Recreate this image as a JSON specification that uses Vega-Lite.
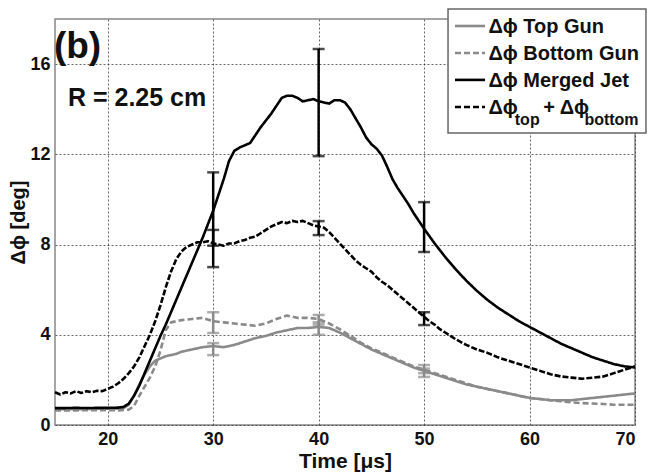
{
  "$schema": "https://vega.github.io/schema/vega-lite/v6.json",
  "width": 580,
  "height": 406,
  "autosize": {"type": "none"},
  "padding": {"left": 55, "top": 19, "right": 12, "bottom": 47},
  "background": "white",
  "config": {
    "view": {"stroke": "#888888", "strokeWidth": 1.5},
    "axis": {
      "labelFont": "Liberation Sans", "labelFontWeight": "bold", "labelFontSize": 18, "labelColor": "#111111",
      "titleFont": "Liberation Sans", "titleFontWeight": "bold", "titleColor": "#111111",
      "domain": false, "ticks": false,
      "grid": true, "gridColor": "#333333", "gridDash": [2, 2], "gridWidth": 1, "gridOpacity": 0.75
    },
    "text": {"font": "Liberation Sans", "fontWeight": "bold", "color": "#111111"}
  },
  "datasets": {
    "lines": [
      {"series":"Top Gun","time":15,"dphi":0.7},{"series":"Top Gun","time":17,"dphi":0.7},{"series":"Top Gun","time":19,"dphi":0.72},{"series":"Top Gun","time":21,"dphi":0.72},{"series":"Top Gun","time":21.5,"dphi":0.75},{"series":"Top Gun","time":22,"dphi":0.9},{"series":"Top Gun","time":22.5,"dphi":1.3},{"series":"Top Gun","time":23,"dphi":1.8},{"series":"Top Gun","time":23.5,"dphi":2.25},{"series":"Top Gun","time":24,"dphi":2.6},{"series":"Top Gun","time":24.5,"dphi":2.85},{"series":"Top Gun","time":25,"dphi":2.95},{"series":"Top Gun","time":25.5,"dphi":3.05},{"series":"Top Gun","time":26,"dphi":3.1},{"series":"Top Gun","time":26.5,"dphi":3.15},{"series":"Top Gun","time":27,"dphi":3.25},{"series":"Top Gun","time":28,"dphi":3.35},{"series":"Top Gun","time":29,"dphi":3.45},{"series":"Top Gun","time":30,"dphi":3.5},{"series":"Top Gun","time":31,"dphi":3.45},{"series":"Top Gun","time":32,"dphi":3.55},{"series":"Top Gun","time":33,"dphi":3.7},{"series":"Top Gun","time":34,"dphi":3.85},{"series":"Top Gun","time":35,"dphi":3.95},{"series":"Top Gun","time":36,"dphi":4.1},{"series":"Top Gun","time":37,"dphi":4.2},{"series":"Top Gun","time":38,"dphi":4.3},{"series":"Top Gun","time":39,"dphi":4.3},{"series":"Top Gun","time":40,"dphi":4.35},{"series":"Top Gun","time":41,"dphi":4.3},{"series":"Top Gun","time":42,"dphi":4.1},{"series":"Top Gun","time":43,"dphi":3.85},{"series":"Top Gun","time":44,"dphi":3.6},{"series":"Top Gun","time":45,"dphi":3.35},{"series":"Top Gun","time":46,"dphi":3.15},{"series":"Top Gun","time":47,"dphi":2.95},{"series":"Top Gun","time":48,"dphi":2.75},{"series":"Top Gun","time":49,"dphi":2.55},{"series":"Top Gun","time":50,"dphi":2.4},{"series":"Top Gun","time":51,"dphi":2.25},{"series":"Top Gun","time":52,"dphi":2.1},{"series":"Top Gun","time":53,"dphi":1.95},{"series":"Top Gun","time":54,"dphi":1.8},{"series":"Top Gun","time":55,"dphi":1.7},{"series":"Top Gun","time":56,"dphi":1.6},{"series":"Top Gun","time":57,"dphi":1.5},{"series":"Top Gun","time":58,"dphi":1.4},{"series":"Top Gun","time":59,"dphi":1.3},{"series":"Top Gun","time":60,"dphi":1.2},{"series":"Top Gun","time":61,"dphi":1.15},{"series":"Top Gun","time":62,"dphi":1.1},{"series":"Top Gun","time":63,"dphi":1.1},{"series":"Top Gun","time":64,"dphi":1.1},{"series":"Top Gun","time":65,"dphi":1.15},{"series":"Top Gun","time":66,"dphi":1.2},{"series":"Top Gun","time":67,"dphi":1.25},{"series":"Top Gun","time":68,"dphi":1.3},{"series":"Top Gun","time":69,"dphi":1.35},{"series":"Top Gun","time":70,"dphi":1.4},

      {"series":"Bottom Gun","time":15,"dphi":0.65},{"series":"Bottom Gun","time":17,"dphi":0.65},{"series":"Bottom Gun","time":19,"dphi":0.66},{"series":"Bottom Gun","time":21,"dphi":0.65},{"series":"Bottom Gun","time":22,"dphi":0.68},{"series":"Bottom Gun","time":22.5,"dphi":0.85},{"series":"Bottom Gun","time":23,"dphi":1.3},{"series":"Bottom Gun","time":23.5,"dphi":1.7},{"series":"Bottom Gun","time":24,"dphi":2.1},{"series":"Bottom Gun","time":24.5,"dphi":2.6},{"series":"Bottom Gun","time":25,"dphi":3.3},{"series":"Bottom Gun","time":25.5,"dphi":4.2},{"series":"Bottom Gun","time":26,"dphi":4.55},{"series":"Bottom Gun","time":26.5,"dphi":4.6},{"series":"Bottom Gun","time":27,"dphi":4.65},{"series":"Bottom Gun","time":28,"dphi":4.7},{"series":"Bottom Gun","time":29,"dphi":4.75},{"series":"Bottom Gun","time":30,"dphi":4.6},{"series":"Bottom Gun","time":31,"dphi":4.55},{"series":"Bottom Gun","time":32,"dphi":4.5},{"series":"Bottom Gun","time":33,"dphi":4.45},{"series":"Bottom Gun","time":34,"dphi":4.4},{"series":"Bottom Gun","time":35,"dphi":4.5},{"series":"Bottom Gun","time":36,"dphi":4.7},{"series":"Bottom Gun","time":37,"dphi":4.85},{"series":"Bottom Gun","time":38,"dphi":4.75},{"series":"Bottom Gun","time":39,"dphi":4.75},{"series":"Bottom Gun","time":40,"dphi":4.7},{"series":"Bottom Gun","time":41,"dphi":4.5},{"series":"Bottom Gun","time":42,"dphi":4.25},{"series":"Bottom Gun","time":43,"dphi":3.95},{"series":"Bottom Gun","time":44,"dphi":3.65},{"series":"Bottom Gun","time":45,"dphi":3.4},{"series":"Bottom Gun","time":46,"dphi":3.2},{"series":"Bottom Gun","time":47,"dphi":3.0},{"series":"Bottom Gun","time":48,"dphi":2.8},{"series":"Bottom Gun","time":49,"dphi":2.6},{"series":"Bottom Gun","time":50,"dphi":2.45},{"series":"Bottom Gun","time":51,"dphi":2.3},{"series":"Bottom Gun","time":52,"dphi":2.15},{"series":"Bottom Gun","time":53,"dphi":2.0},{"series":"Bottom Gun","time":54,"dphi":1.85},{"series":"Bottom Gun","time":55,"dphi":1.7},{"series":"Bottom Gun","time":56,"dphi":1.6},{"series":"Bottom Gun","time":57,"dphi":1.5},{"series":"Bottom Gun","time":58,"dphi":1.4},{"series":"Bottom Gun","time":59,"dphi":1.3},{"series":"Bottom Gun","time":60,"dphi":1.2},{"series":"Bottom Gun","time":61,"dphi":1.15},{"series":"Bottom Gun","time":62,"dphi":1.1},{"series":"Bottom Gun","time":63,"dphi":1.05},{"series":"Bottom Gun","time":64,"dphi":1.0},{"series":"Bottom Gun","time":65,"dphi":0.97},{"series":"Bottom Gun","time":66,"dphi":0.95},{"series":"Bottom Gun","time":67,"dphi":0.93},{"series":"Bottom Gun","time":68,"dphi":0.9},{"series":"Bottom Gun","time":69,"dphi":0.9},{"series":"Bottom Gun","time":70,"dphi":0.9},

      {"series":"Merged Jet","time":15,"dphi":0.75},{"series":"Merged Jet","time":16,"dphi":0.75},{"series":"Merged Jet","time":17,"dphi":0.76},{"series":"Merged Jet","time":18,"dphi":0.75},{"series":"Merged Jet","time":19,"dphi":0.76},{"series":"Merged Jet","time":20,"dphi":0.76},{"series":"Merged Jet","time":21,"dphi":0.77},{"series":"Merged Jet","time":21.5,"dphi":0.8},{"series":"Merged Jet","time":22,"dphi":0.95},{"series":"Merged Jet","time":22.5,"dphi":1.3},{"series":"Merged Jet","time":23,"dphi":1.75},{"series":"Merged Jet","time":23.5,"dphi":2.3},{"series":"Merged Jet","time":24,"dphi":2.85},{"series":"Merged Jet","time":24.5,"dphi":3.4},{"series":"Merged Jet","time":25,"dphi":3.95},{"series":"Merged Jet","time":25.5,"dphi":4.45},{"series":"Merged Jet","time":26,"dphi":5.0},{"series":"Merged Jet","time":26.5,"dphi":5.55},{"series":"Merged Jet","time":27,"dphi":6.1},{"series":"Merged Jet","time":27.5,"dphi":6.65},{"series":"Merged Jet","time":28,"dphi":7.2},{"series":"Merged Jet","time":28.5,"dphi":7.75},{"series":"Merged Jet","time":29,"dphi":8.3},{"series":"Merged Jet","time":29.5,"dphi":8.9},{"series":"Merged Jet","time":30,"dphi":9.5},{"series":"Merged Jet","time":30.5,"dphi":10.2},{"series":"Merged Jet","time":31,"dphi":10.9},{"series":"Merged Jet","time":31.5,"dphi":11.7},{"series":"Merged Jet","time":32,"dphi":12.15},{"series":"Merged Jet","time":32.5,"dphi":12.3},{"series":"Merged Jet","time":33,"dphi":12.4},{"series":"Merged Jet","time":33.5,"dphi":12.5},{"series":"Merged Jet","time":34,"dphi":12.85},{"series":"Merged Jet","time":34.5,"dphi":13.2},{"series":"Merged Jet","time":35,"dphi":13.5},{"series":"Merged Jet","time":35.5,"dphi":13.8},{"series":"Merged Jet","time":36,"dphi":14.15},{"series":"Merged Jet","time":36.5,"dphi":14.5},{"series":"Merged Jet","time":37,"dphi":14.6},{"series":"Merged Jet","time":37.5,"dphi":14.6},{"series":"Merged Jet","time":38,"dphi":14.5},{"series":"Merged Jet","time":38.5,"dphi":14.35},{"series":"Merged Jet","time":39,"dphi":14.4},{"series":"Merged Jet","time":39.5,"dphi":14.45},{"series":"Merged Jet","time":40,"dphi":14.35},{"series":"Merged Jet","time":40.5,"dphi":14.3},{"series":"Merged Jet","time":41,"dphi":14.25},{"series":"Merged Jet","time":41.5,"dphi":14.4},{"series":"Merged Jet","time":42,"dphi":14.4},{"series":"Merged Jet","time":42.5,"dphi":14.3},{"series":"Merged Jet","time":43,"dphi":14.0},{"series":"Merged Jet","time":43.5,"dphi":13.6},{"series":"Merged Jet","time":44,"dphi":13.2},{"series":"Merged Jet","time":44.5,"dphi":12.75},{"series":"Merged Jet","time":45,"dphi":12.45},{"series":"Merged Jet","time":45.5,"dphi":12.25},{"series":"Merged Jet","time":46,"dphi":11.95},{"series":"Merged Jet","time":46.5,"dphi":11.45},{"series":"Merged Jet","time":47,"dphi":10.9},{"series":"Merged Jet","time":47.5,"dphi":10.5},{"series":"Merged Jet","time":48,"dphi":10.15},{"series":"Merged Jet","time":48.5,"dphi":9.8},{"series":"Merged Jet","time":49,"dphi":9.4},{"series":"Merged Jet","time":49.5,"dphi":9.05},{"series":"Merged Jet","time":50,"dphi":8.7},{"series":"Merged Jet","time":51,"dphi":8.05},{"series":"Merged Jet","time":52,"dphi":7.45},{"series":"Merged Jet","time":53,"dphi":6.9},{"series":"Merged Jet","time":54,"dphi":6.4},{"series":"Merged Jet","time":55,"dphi":5.95},{"series":"Merged Jet","time":56,"dphi":5.55},{"series":"Merged Jet","time":57,"dphi":5.2},{"series":"Merged Jet","time":58,"dphi":4.9},{"series":"Merged Jet","time":59,"dphi":4.6},{"series":"Merged Jet","time":60,"dphi":4.35},{"series":"Merged Jet","time":61,"dphi":4.1},{"series":"Merged Jet","time":62,"dphi":3.85},{"series":"Merged Jet","time":63,"dphi":3.6},{"series":"Merged Jet","time":64,"dphi":3.4},{"series":"Merged Jet","time":65,"dphi":3.2},{"series":"Merged Jet","time":66,"dphi":3.0},{"series":"Merged Jet","time":67,"dphi":2.85},{"series":"Merged Jet","time":68,"dphi":2.7},{"series":"Merged Jet","time":69,"dphi":2.6},{"series":"Merged Jet","time":70,"dphi":2.55},

      {"series":"Sum","time":15,"dphi":1.45},{"series":"Sum","time":15.5,"dphi":1.35},{"series":"Sum","time":16,"dphi":1.45},{"series":"Sum","time":16.5,"dphi":1.4},{"series":"Sum","time":17,"dphi":1.5},{"series":"Sum","time":17.5,"dphi":1.42},{"series":"Sum","time":18,"dphi":1.5},{"series":"Sum","time":18.5,"dphi":1.45},{"series":"Sum","time":19,"dphi":1.52},{"series":"Sum","time":19.5,"dphi":1.5},{"series":"Sum","time":20,"dphi":1.6},{"series":"Sum","time":20.5,"dphi":1.7},{"series":"Sum","time":21,"dphi":1.85},{"series":"Sum","time":21.5,"dphi":2.05},{"series":"Sum","time":22,"dphi":2.3},{"series":"Sum","time":22.5,"dphi":2.6},{"series":"Sum","time":23,"dphi":3.0},{"series":"Sum","time":23.5,"dphi":3.5},{"series":"Sum","time":24,"dphi":4.0},{"series":"Sum","time":24.5,"dphi":4.6},{"series":"Sum","time":25,"dphi":5.3},{"series":"Sum","time":25.5,"dphi":6.1},{"series":"Sum","time":26,"dphi":6.8},{"series":"Sum","time":26.5,"dphi":7.35},{"series":"Sum","time":27,"dphi":7.7},{"series":"Sum","time":27.5,"dphi":7.9},{"series":"Sum","time":28,"dphi":8.0},{"series":"Sum","time":28.5,"dphi":8.1},{"series":"Sum","time":29,"dphi":8.1},{"series":"Sum","time":29.5,"dphi":8.15},{"series":"Sum","time":30,"dphi":8.05},{"series":"Sum","time":30.5,"dphi":8.0},{"series":"Sum","time":31,"dphi":7.95},{"series":"Sum","time":31.5,"dphi":8.05},{"series":"Sum","time":32,"dphi":8.05},{"series":"Sum","time":32.5,"dphi":8.15},{"series":"Sum","time":33,"dphi":8.2},{"series":"Sum","time":33.5,"dphi":8.3},{"series":"Sum","time":34,"dphi":8.35},{"series":"Sum","time":34.5,"dphi":8.5},{"series":"Sum","time":35,"dphi":8.65},{"series":"Sum","time":35.5,"dphi":8.8},{"series":"Sum","time":36,"dphi":8.9},{"series":"Sum","time":36.5,"dphi":9.0},{"series":"Sum","time":37,"dphi":8.95},{"series":"Sum","time":37.5,"dphi":9.05},{"series":"Sum","time":38,"dphi":9.0},{"series":"Sum","time":38.5,"dphi":9.05},{"series":"Sum","time":39,"dphi":8.95},{"series":"Sum","time":39.5,"dphi":8.85},{"series":"Sum","time":40,"dphi":8.8},{"series":"Sum","time":40.5,"dphi":8.75},{"series":"Sum","time":41,"dphi":8.55},{"series":"Sum","time":41.5,"dphi":8.3},{"series":"Sum","time":42,"dphi":8.05},{"series":"Sum","time":42.5,"dphi":7.8},{"series":"Sum","time":43,"dphi":7.55},{"series":"Sum","time":43.5,"dphi":7.3},{"series":"Sum","time":44,"dphi":7.1},{"series":"Sum","time":44.5,"dphi":6.95},{"series":"Sum","time":45,"dphi":6.8},{"series":"Sum","time":45.5,"dphi":6.55},{"series":"Sum","time":46,"dphi":6.35},{"series":"Sum","time":46.5,"dphi":6.2},{"series":"Sum","time":47,"dphi":6.0},{"series":"Sum","time":47.5,"dphi":5.8},{"series":"Sum","time":48,"dphi":5.6},{"series":"Sum","time":48.5,"dphi":5.4},{"series":"Sum","time":49,"dphi":5.2},{"series":"Sum","time":49.5,"dphi":5.0},{"series":"Sum","time":50,"dphi":4.8},{"series":"Sum","time":50.5,"dphi":4.6},{"series":"Sum","time":51,"dphi":4.45},{"series":"Sum","time":51.5,"dphi":4.25},{"series":"Sum","time":52,"dphi":4.1},{"series":"Sum","time":52.5,"dphi":3.95},{"series":"Sum","time":53,"dphi":3.8},{"series":"Sum","time":54,"dphi":3.55},{"series":"Sum","time":55,"dphi":3.35},{"series":"Sum","time":56,"dphi":3.2},{"series":"Sum","time":57,"dphi":3.0},{"series":"Sum","time":58,"dphi":2.85},{"series":"Sum","time":59,"dphi":2.7},{"series":"Sum","time":60,"dphi":2.55},{"series":"Sum","time":61,"dphi":2.4},{"series":"Sum","time":62,"dphi":2.25},{"series":"Sum","time":63,"dphi":2.15},{"series":"Sum","time":64,"dphi":2.1},{"series":"Sum","time":65,"dphi":2.05},{"series":"Sum","time":66,"dphi":2.1},{"series":"Sum","time":67,"dphi":2.15},{"series":"Sum","time":68,"dphi":2.3},{"series":"Sum","time":69,"dphi":2.45},{"series":"Sum","time":70,"dphi":2.6}
    ],
    "bars": [
      {"series":"Merged Jet","time":30,"lo":7.0,"hi":11.2},
      {"series":"Merged Jet","time":40,"lo":11.92,"hi":16.67},
      {"series":"Merged Jet","time":50,"lo":7.67,"hi":9.88},
      {"series":"Sum","time":30,"lo":7.95,"hi":8.65},
      {"series":"Sum","time":40,"lo":8.42,"hi":9.04},
      {"series":"Sum","time":50,"lo":4.43,"hi":5.0},
      {"series":"Bottom Gun","time":30,"lo":4.08,"hi":5.0},
      {"series":"Top Gun","time":30,"lo":3.1,"hi":3.63},
      {"series":"Bottom Gun","time":40,"lo":4.45,"hi":4.88},
      {"series":"Top Gun","time":40,"lo":4.0,"hi":4.55},
      {"series":"Bottom Gun","time":50,"lo":2.3,"hi":2.66},
      {"series":"Top Gun","time":50,"lo":2.13,"hi":2.5}
    ],
    "one": [{}]
  },
  "layer": [
    {
      "data": {"name": "lines"},
      "mark": {"type": "line", "strokeJoin": "round"},
      "encoding": {
        "x": {"field": "time", "type": "quantitative", "scale": {"domain": [15, 70], "nice": false, "zero": false},
              "axis": {"values": [20, 30, 40, 50, 60, 70], "title": "Time [μs]", "titleFontSize": 21, "labelPadding": 5, "titleBaseline": "alphabetic", "titleY": 42}},
        "y": {"field": "dphi", "type": "quantitative", "scale": {"domain": [0, 18], "nice": false},
              "axis": {"values": [0, 4, 8, 12, 16], "title": "Δϕ  [deg]", "titleFontSize": 20, "labelPadding": 5, "titlePadding": 1}},
        "color": {"field": "series", "type": "nominal", "legend": null,
                  "scale": {"domain": ["Top Gun", "Bottom Gun", "Merged Jet", "Sum"], "range": ["#8a8a8a", "#8a8a8a", "#000000", "#000000"]}},
        "strokeDash": {"field": "series", "type": "nominal", "legend": null,
                  "scale": {"domain": ["Top Gun", "Bottom Gun", "Merged Jet", "Sum"], "range": [[1, 0], [6, 3], [1, 0], [6, 2]]}},
        "strokeWidth": {"field": "series", "type": "nominal", "legend": null,
                  "scale": {"domain": ["Top Gun", "Bottom Gun", "Merged Jet", "Sum"], "range": [2.6, 2.6, 2.2, 2.6]}}
      }
    },
    {
      "data": {"name": "bars"},
      "mark": {"type": "rule", "strokeWidth": 2.5},
      "encoding": {
        "x": {"field": "time", "type": "quantitative"},
        "y": {"field": "lo", "type": "quantitative"},
        "y2": {"field": "hi"},
        "color": {"field": "series", "type": "nominal", "legend": null}
      }
    },
    {
      "data": {"name": "bars"},
      "mark": {"type": "tick", "orient": "horizontal", "size": 12, "thickness": 2.5},
      "encoding": {
        "x": {"field": "time", "type": "quantitative"},
        "y": {"field": "lo", "type": "quantitative"},
        "color": {"field": "series", "type": "nominal", "legend": null}
      }
    },
    {
      "data": {"name": "bars"},
      "mark": {"type": "tick", "orient": "horizontal", "size": 12, "thickness": 2.5},
      "encoding": {
        "x": {"field": "time", "type": "quantitative"},
        "y": {"field": "hi", "type": "quantitative"},
        "color": {"field": "series", "type": "nominal", "legend": null}
      }
    },
    {
      "data": {"name": "one"},
      "mark": {"type": "text", "text": "(b)", "fontSize": 37, "align": "left", "baseline": "alphabetic"},
      "encoding": {"x": {"datum": 14.9}, "y": {"datum": 16.25}}
    },
    {
      "data": {"name": "one"},
      "mark": {"type": "text", "text": "R = 2.25 cm", "fontSize": 25, "align": "left", "baseline": "alphabetic"},
      "encoding": {"x": {"datum": 16.23}, "y": {"datum": 14.14}}
    },
    {
      "data": {"name": "one"},
      "mark": {"type": "rect", "fill": "white", "stroke": "#666666", "strokeWidth": 1.5},
      "encoding": {"x": {"datum": 52.27}, "x2": {"datum": 71.04}, "y": {"datum": 18.44}, "y2": {"datum": 12.95}}
    },
    {
      "data": {"name": "one"},
      "mark": {"type": "rule", "color": "#8a8a8a", "strokeWidth": 2.6},
      "encoding": {"x": {"datum": 52.93}, "x2": {"datum": 55.78}, "y": {"datum": 17.69}}
    },
    {
      "data": {"name": "one"},
      "mark": {"type": "rule", "color": "#8a8a8a", "strokeWidth": 2.6, "strokeDash": [6, 3]},
      "encoding": {"x": {"datum": 52.93}, "x2": {"datum": 55.78}, "y": {"datum": 16.49}}
    },
    {
      "data": {"name": "one"},
      "mark": {"type": "rule", "color": "#000000", "strokeWidth": 2.6},
      "encoding": {"x": {"datum": 52.93}, "x2": {"datum": 55.78}, "y": {"datum": 15.30}}
    },
    {
      "data": {"name": "one"},
      "mark": {"type": "rule", "color": "#000000", "strokeWidth": 2.6, "strokeDash": [6, 3]},
      "encoding": {"x": {"datum": 52.93}, "x2": {"datum": 55.78}, "y": {"datum": 14.10}}
    },
    {
      "data": {"name": "one"},
      "mark": {"type": "text", "text": "Δϕ Top Gun", "fontSize": 20, "align": "left", "baseline": "alphabetic"},
      "encoding": {"x": {"datum": 56.1}, "y": {"datum": 17.38}}
    },
    {
      "data": {"name": "one"},
      "mark": {"type": "text", "text": "Δϕ Bottom Gun", "fontSize": 20, "align": "left", "baseline": "alphabetic"},
      "encoding": {"x": {"datum": 56.1}, "y": {"datum": 16.18}}
    },
    {
      "data": {"name": "one"},
      "mark": {"type": "text", "text": "Δϕ Merged Jet", "fontSize": 20, "align": "left", "baseline": "alphabetic"},
      "encoding": {"x": {"datum": 56.1}, "y": {"datum": 14.98}}
    },
    {
      "data": {"name": "one"},
      "mark": {"type": "text", "text": "Δϕ", "fontSize": 20, "align": "left", "baseline": "alphabetic"},
      "encoding": {"x": {"datum": 56.1}, "y": {"datum": 13.79}}
    },
    {
      "data": {"name": "one"},
      "mark": {"type": "text", "text": "top", "fontSize": 16, "align": "left", "baseline": "alphabetic"},
      "encoding": {"x": {"datum": 58.6}, "y": {"datum": 13.3}}
    },
    {
      "data": {"name": "one"},
      "mark": {"type": "text", "text": "+ Δϕ", "fontSize": 20, "align": "left", "baseline": "alphabetic"},
      "encoding": {"x": {"datum": 61.3}, "y": {"datum": 13.79}}
    },
    {
      "data": {"name": "one"},
      "mark": {"type": "text", "text": "bottom", "fontSize": 16, "align": "left", "baseline": "alphabetic"},
      "encoding": {"x": {"datum": 65.2}, "y": {"datum": 13.3}}
    }
  ]
}
